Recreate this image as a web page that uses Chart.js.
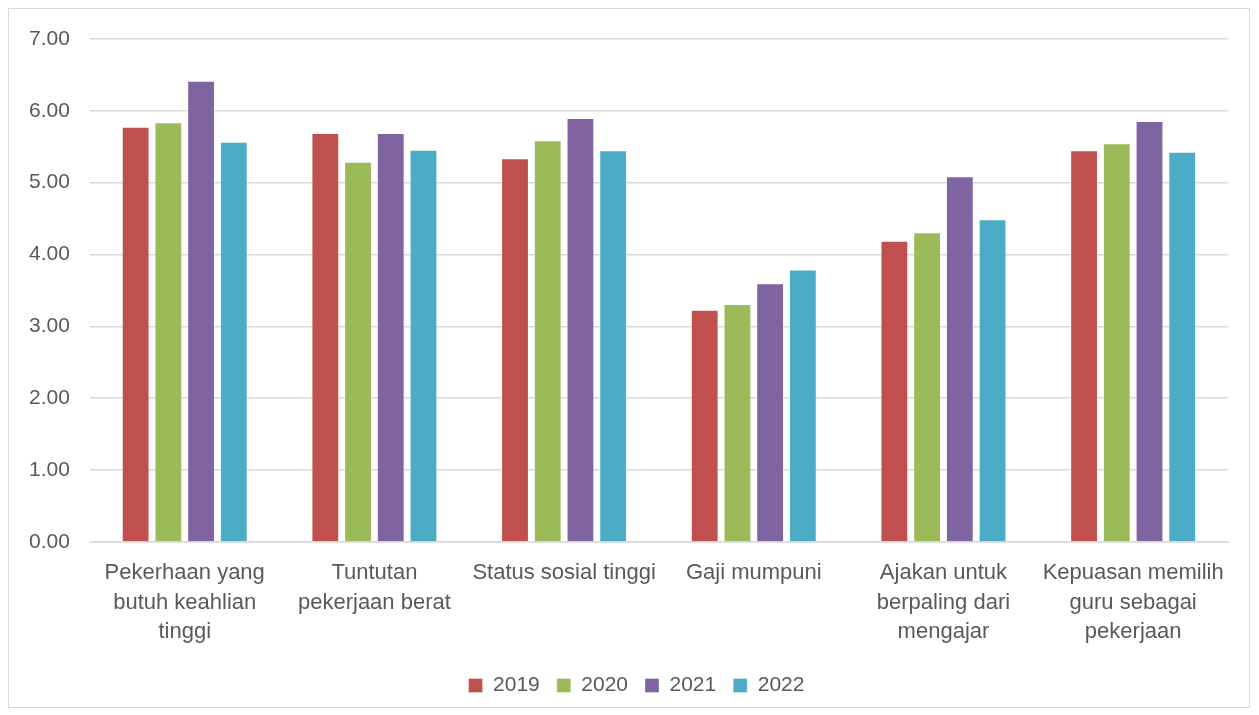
<!DOCTYPE html>
<html>
<head>
<meta charset="utf-8">
<script src="https://cdn.jsdelivr.net/npm/chart.js@4"></script>
<style>
  html, body { margin: 0; padding: 0; background: #fff; }
  #box { position: absolute; left: 8px; top: 8px; width: 1242px; height: 700px; border: 1px solid #d9d9d9; box-sizing: border-box; }
  canvas { display: block; }
</style>
</head>
<body>
<div id="box"><canvas id="c" width="1240" height="698"></canvas></div>
<script>
const categories = [
  ["Pekerhaan yang", "butuh keahlian", "tinggi"],
  ["Tuntutan", "pekerjaan berat"],
  ["Status sosial tinggi"],
  ["Gaji mumpuni"],
  ["Ajakan untuk", "berpaling dari", "mengajar"],
  ["Kepuasan memilih", "guru sebagai", "pekerjaan"]
];
const seriesNames = ["2019", "2020", "2021", "2022"];
const v2019 = [5.78, 5.69, 5.34, 3.23, 4.19, 5.45];
const v2020 = [5.84, 5.29, 5.59, 3.31, 4.31, 5.55];
const v2021 = [6.42, 5.69, 5.90, 3.60, 5.09, 5.86];
const v2022 = [5.57, 5.46, 5.45, 3.79, 4.49, 5.43];
const colors = ["#C0504D", "#9BBB59", "#8064A2", "#4BACC6"];
const allValues = [v2019, v2020, v2021, v2022];

const font = "'Liberation Sans', 'Open Sans', sans-serif";
const shiftLegend = {
  id: 'shiftLegend',
  afterLayout(chart) {
    const lg = chart.legend;
    if (lg) { lg.left += 18; lg.right += 18; }
  }
};
new Chart(document.getElementById('c'), {
  type: 'bar',
  data: {
    labels: categories,
    datasets: allValues.map((vals, i) => ({
      label: seriesNames[i],
      data: vals,
      backgroundColor: colors[i],
      borderColor: 'rgba(255,255,255,0.35)',
      borderWidth: 1,
      categoryPercentage: 0.69,
      barPercentage: 0.85
    }))
  },
  plugins: [shiftLegend],
  options: {
    responsive: false,
    animation: false,
    layout: { padding: { top: 30, right: 21, left: 0, bottom: 1 } },
    scales: {
      y: {
        min: 0, max: 7,
        afterFit(s) { s.paddingTop = 0; },
        ticks: { stepSize: 1, color: '#595959', font: { size: 21, family: font }, padding: 20,
                 callback: v => v.toFixed(2) },
        grid: { color: '#d9d9d9', lineWidth: 1.5, drawTicks: false },
        border: { display: false }
      },
      x: {
        afterFit(s) { s.height += 3; },
        ticks: { color: '#595959', font: { size: 22, family: font, lineHeight: 1.32 }, padding: 9, maxRotation: 0, autoSkip: false },
        grid: { display: false },
        border: { display: true, color: '#d9d9d9', width: 1.5 }
      }
    },
    plugins: {
      legend: {
        position: 'bottom',
        labels: { color: '#595959', font: { size: 21, family: font }, boxWidth: 14, boxHeight: 14, padding: 17 }
      },
      tooltip: { enabled: false }
    }
  }
});
</script>
</body>
</html>
